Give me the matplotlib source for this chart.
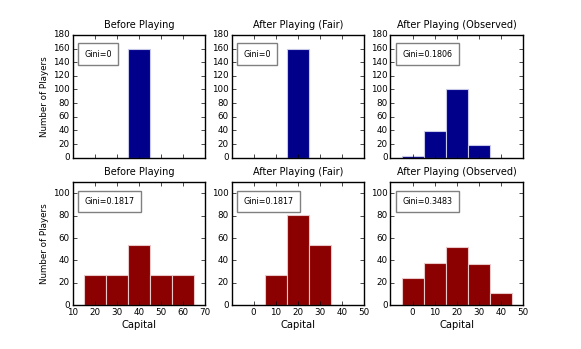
import numpy as np
import matplotlib
matplotlib.use("Agg")
import matplotlib.pyplot as plt

plt.style.use("classic")

# Capital bins (bar centres) and counts per panel
top_titles = ["Before Playing", "After Playing (Fair)", "After Playing (Observed)"]
bottom_titles = ["Before Playing", "After Playing (Fair)", "After Playing (Observed)"]

top_centers = [[40], [20], [0, 10, 20, 30, 40]]
top_counts = [[160], [160], [2, 39, 100, 19, 0]]
top_gini = ["Gini=0", "Gini=0", "Gini=0.1806"]

bottom_centers = [[20, 30, 40, 50, 60], [10, 20, 30], [0, 10, 20, 30, 40]]
bottom_counts = [[27, 27, 54, 27, 27], [27, 81, 54], [24, 38, 52, 37, 11]]
bottom_gini = ["Gini=0.1817", "Gini=0.1817", "Gini=0.3483"]

xlims = [(10, 70), (-10, 50), (-10, 50)]
xticks = [[10, 20, 30, 40, 50, 60, 70], [0, 10, 20, 30, 40, 50], [0, 10, 20, 30, 40, 50]]

fig, axes = plt.subplots(2, 3, sharex="col", figsize=(5.81, 3.49), dpi=100)
fig.patch.set_facecolor("white")
fig.subplots_adjust(left=0.125, right=0.9, top=0.9, bottom=0.126,
                    wspace=0.2, hspace=0.2)

box = dict(facecolor="white", edgecolor="gray", pad=4.5)

for j in range(3):
    ax = axes[0, j]
    ax.bar(top_centers[j], top_counts[j], width=10, align="center",
           color="#00008B", edgecolor="#c8c8e8", linewidth=0.8)
    ax.set_ylim(0, 180)
    ax.set_yticks(np.arange(0, 181, 20))
    ax.set_title(top_titles[j], fontsize=7)
    ax.text(0.09, 0.88, top_gini[j], transform=ax.transAxes, fontsize=5.8,
            va="top", ha="left", bbox=box)

    ax = axes[1, j]
    ax.bar(bottom_centers[j], bottom_counts[j], width=10, align="center",
           color="#8B0000", edgecolor="#e8c8c8", linewidth=0.8)
    ax.set_ylim(0, 110)
    ax.set_yticks(np.arange(0, 101, 20))
    ax.set_xlim(*xlims[j])
    ax.set_xticks(xticks[j])
    ax.set_title(bottom_titles[j], fontsize=7)
    ax.text(0.09, 0.88, bottom_gini[j], transform=ax.transAxes, fontsize=5.8,
            va="top", ha="left", bbox=box)
    ax.set_xlabel("Capital", fontsize=7.2, labelpad=2)

for ax in axes.flat:
    ax.tick_params(labelsize=6.3, length=3, pad=2)

axes[0, 0].set_ylabel("Number of Players", fontsize=6.3, labelpad=3)
axes[1, 0].set_ylabel("Number of Players", fontsize=6.3, labelpad=3)

plt.savefig("out.png", dpi=100, facecolor="white")
plt.close()
